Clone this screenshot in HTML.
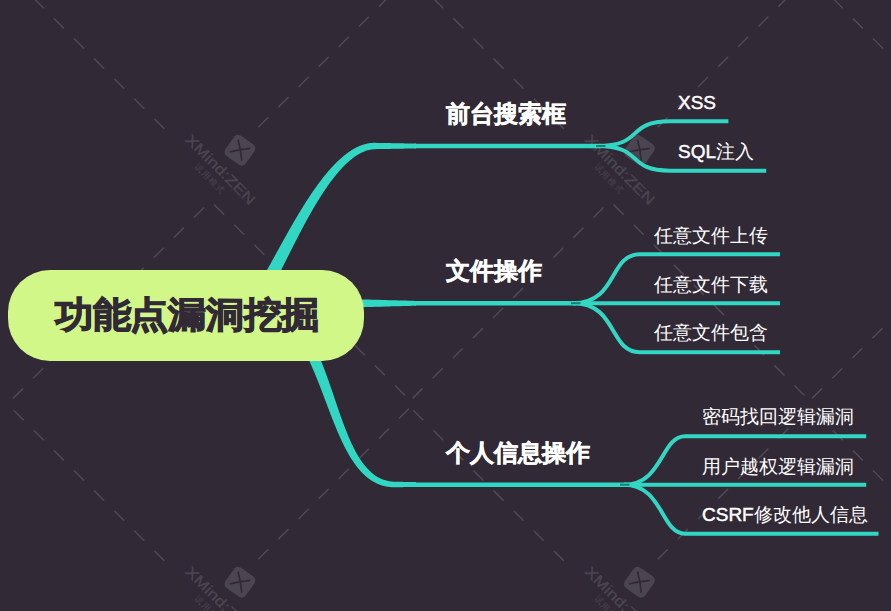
<!DOCTYPE html>
<html><head><meta charset="utf-8"><style>
html,body{margin:0;padding:0;}
body{width:891px;height:611px;background:#312935;position:relative;overflow:hidden;font-family:"Liberation Sans",sans-serif;}
svg{position:absolute;left:0;top:0;}
.t{position:absolute;color:#fff;white-space:nowrap;line-height:1.2;}
.t b{font-weight:400;-webkit-text-stroke:0.45px #fff;}
.h1{font-weight:700;-webkit-text-stroke:0.5px #fff;}
.pill{position:absolute;left:8px;top:270px;width:356px;height:91px;border-radius:42px;background:#d2f789;}
.ct{position:absolute;left:55px;top:292.5px;letter-spacing:-0.3px;transform:scaleY(0.94);transform-origin:50% 58%;font-size:38px;font-weight:700;color:#312935;-webkit-text-stroke:1.3px #312935;white-space:nowrap;line-height:1.2;}
</style></head><body>
<svg width="891" height="611" viewBox="0 0 891 611">
<g stroke="#4e4955" stroke-width="1.5" font-family="Liberation Sans, sans-serif">
<line x1="164.4" y1="128.9" x2="154.4" y2="118.9"/>
<line x1="144.3" y1="108.8" x2="134.3" y2="98.8"/>
<line x1="124.2" y1="88.7" x2="114.2" y2="78.7"/>
<line x1="104.1" y1="68.6" x2="94.1" y2="58.6"/>
<line x1="84.0" y1="48.5" x2="74.0" y2="38.5"/>
<line x1="63.9" y1="28.4" x2="53.9" y2="18.4"/>
<line x1="43.8" y1="8.3" x2="33.8" y2="-1.7"/>
<line x1="258.3" y1="127.2" x2="268.3" y2="117.2"/>
<line x1="278.4" y1="107.1" x2="288.4" y2="97.1"/>
<line x1="298.5" y1="87.0" x2="308.5" y2="77.0"/>
<line x1="318.6" y1="66.9" x2="328.6" y2="56.9"/>
<line x1="338.7" y1="46.8" x2="348.7" y2="36.8"/>
<line x1="358.8" y1="26.7" x2="368.8" y2="16.7"/>
<line x1="378.9" y1="6.6" x2="388.9" y2="-3.4"/>
<line x1="204.0" y1="207.5" x2="194.0" y2="217.5"/>
<line x1="183.9" y1="227.6" x2="173.9" y2="237.6"/>
<line x1="163.8" y1="247.7" x2="153.8" y2="257.7"/>
<line x1="143.7" y1="267.8" x2="133.7" y2="277.8"/>
<line x1="123.6" y1="287.9" x2="113.6" y2="297.9"/>
<line x1="103.5" y1="308.0" x2="93.5" y2="318.0"/>
<line x1="83.4" y1="328.1" x2="73.4" y2="338.1"/>
<line x1="63.3" y1="348.2" x2="53.3" y2="358.2"/>
<line x1="43.2" y1="368.3" x2="33.2" y2="378.3"/>
<line x1="23.1" y1="388.4" x2="13.1" y2="398.4"/>
<line x1="214.1" y1="204.6" x2="224.1" y2="214.6"/>
<line x1="234.2" y1="224.7" x2="244.2" y2="234.7"/>
<line x1="254.3" y1="244.8" x2="264.3" y2="254.8"/>
<line x1="274.4" y1="264.9" x2="284.4" y2="274.9"/>
<line x1="294.5" y1="285.0" x2="304.5" y2="295.0"/>
<line x1="314.6" y1="305.1" x2="324.6" y2="315.1"/>
<line x1="334.7" y1="325.2" x2="344.7" y2="335.2"/>
<line x1="354.8" y1="345.3" x2="364.8" y2="355.3"/>
<line x1="374.9" y1="365.4" x2="384.9" y2="375.4"/>
<line x1="395.0" y1="385.5" x2="405.0" y2="395.5"/>
<g transform="translate(239.9 150.2) rotate(35)"><rect x="-12.5" y="-12.5" width="25" height="25" rx="5" fill="#4a4551" stroke="none"/><path d="M-7.5 -7.5 Q0 -1.5 7.5 7.5 M7.5 -7.5 Q-1.5 0 -7.5 7.5" stroke="#312935" stroke-width="1.7" fill="none"/></g>
<text transform="translate(220.7 169.4) rotate(45)" x="-46" y="5.2" font-size="14.5" textLength="92" lengthAdjust="spacingAndGlyphs" fill="#4a4551" stroke="#4a4551" stroke-width="0.35">XMind:ZEN</text>
<text transform="translate(209.7 178.8) rotate(45)" x="-19" y="3" font-size="8.5" textLength="38" lengthAdjust="spacing" fill="#4a4551" stroke="none">试用模式</text>
<line x1="164.4" y1="560.9" x2="154.4" y2="550.9"/>
<line x1="144.3" y1="540.8" x2="134.3" y2="530.8"/>
<line x1="124.2" y1="520.7" x2="114.2" y2="510.7"/>
<line x1="104.1" y1="500.6" x2="94.1" y2="490.6"/>
<line x1="84.0" y1="480.5" x2="74.0" y2="470.5"/>
<line x1="63.9" y1="460.4" x2="53.9" y2="450.4"/>
<line x1="43.8" y1="440.3" x2="33.8" y2="430.3"/>
<line x1="23.7" y1="420.2" x2="13.7" y2="410.2"/>
<line x1="258.3" y1="559.2" x2="268.3" y2="549.2"/>
<line x1="278.4" y1="539.1" x2="288.4" y2="529.1"/>
<line x1="298.5" y1="519.0" x2="308.5" y2="509.0"/>
<line x1="318.6" y1="498.9" x2="328.6" y2="488.9"/>
<line x1="338.7" y1="478.8" x2="348.7" y2="468.8"/>
<line x1="358.8" y1="458.7" x2="368.8" y2="448.7"/>
<line x1="378.9" y1="438.6" x2="388.9" y2="428.6"/>
<line x1="399.0" y1="418.5" x2="409.0" y2="408.5"/>
<g transform="translate(239.9 582.2) rotate(35)"><rect x="-12.5" y="-12.5" width="25" height="25" rx="5" fill="#4a4551" stroke="none"/><path d="M-7.5 -7.5 Q0 -1.5 7.5 7.5 M7.5 -7.5 Q-1.5 0 -7.5 7.5" stroke="#312935" stroke-width="1.7" fill="none"/></g>
<text transform="translate(220.7 601.4) rotate(45)" x="-46" y="5.2" font-size="14.5" textLength="92" lengthAdjust="spacingAndGlyphs" fill="#4a4551" stroke="#4a4551" stroke-width="0.35">XMind:ZEN</text>
<text transform="translate(209.7 610.8) rotate(45)" x="-19" y="3" font-size="8.5" textLength="38" lengthAdjust="spacing" fill="#4a4551" stroke="none">试用模式</text>
<line x1="563.9" y1="128.9" x2="553.9" y2="118.9"/>
<line x1="543.8" y1="108.8" x2="533.8" y2="98.8"/>
<line x1="523.7" y1="88.7" x2="513.7" y2="78.7"/>
<line x1="503.6" y1="68.6" x2="493.6" y2="58.6"/>
<line x1="483.5" y1="48.5" x2="473.5" y2="38.5"/>
<line x1="463.4" y1="28.4" x2="453.4" y2="18.4"/>
<line x1="443.3" y1="8.3" x2="433.3" y2="-1.7"/>
<line x1="657.8" y1="127.2" x2="667.8" y2="117.2"/>
<line x1="677.9" y1="107.1" x2="687.9" y2="97.1"/>
<line x1="698.0" y1="87.0" x2="708.0" y2="77.0"/>
<line x1="718.1" y1="66.9" x2="728.1" y2="56.9"/>
<line x1="738.2" y1="46.8" x2="748.2" y2="36.8"/>
<line x1="758.3" y1="26.7" x2="768.3" y2="16.7"/>
<line x1="778.4" y1="6.6" x2="788.4" y2="-3.4"/>
<line x1="603.5" y1="207.5" x2="593.5" y2="217.5"/>
<line x1="583.4" y1="227.6" x2="573.4" y2="237.6"/>
<line x1="563.3" y1="247.7" x2="553.3" y2="257.7"/>
<line x1="543.2" y1="267.8" x2="533.2" y2="277.8"/>
<line x1="523.1" y1="287.9" x2="513.1" y2="297.9"/>
<line x1="503.0" y1="308.0" x2="493.0" y2="318.0"/>
<line x1="482.9" y1="328.1" x2="472.9" y2="338.1"/>
<line x1="462.8" y1="348.2" x2="452.8" y2="358.2"/>
<line x1="442.7" y1="368.3" x2="432.7" y2="378.3"/>
<line x1="422.6" y1="388.4" x2="412.6" y2="398.4"/>
<line x1="613.6" y1="204.6" x2="623.6" y2="214.6"/>
<line x1="633.7" y1="224.7" x2="643.7" y2="234.7"/>
<line x1="653.8" y1="244.8" x2="663.8" y2="254.8"/>
<line x1="673.9" y1="264.9" x2="683.9" y2="274.9"/>
<line x1="694.0" y1="285.0" x2="704.0" y2="295.0"/>
<line x1="714.1" y1="305.1" x2="724.1" y2="315.1"/>
<line x1="734.2" y1="325.2" x2="744.2" y2="335.2"/>
<line x1="754.3" y1="345.3" x2="764.3" y2="355.3"/>
<line x1="774.4" y1="365.4" x2="784.4" y2="375.4"/>
<line x1="794.5" y1="385.5" x2="804.5" y2="395.5"/>
<g transform="translate(639.4 150.2) rotate(35)"><rect x="-12.5" y="-12.5" width="25" height="25" rx="5" fill="#4a4551" stroke="none"/><path d="M-7.5 -7.5 Q0 -1.5 7.5 7.5 M7.5 -7.5 Q-1.5 0 -7.5 7.5" stroke="#312935" stroke-width="1.7" fill="none"/></g>
<text transform="translate(620.2 169.4) rotate(45)" x="-46" y="5.2" font-size="14.5" textLength="92" lengthAdjust="spacingAndGlyphs" fill="#4a4551" stroke="#4a4551" stroke-width="0.35">XMind:ZEN</text>
<text transform="translate(609.2 178.8) rotate(45)" x="-19" y="3" font-size="8.5" textLength="38" lengthAdjust="spacing" fill="#4a4551" stroke="none">试用模式</text>
<line x1="563.9" y1="560.9" x2="553.9" y2="550.9"/>
<line x1="543.8" y1="540.8" x2="533.8" y2="530.8"/>
<line x1="523.7" y1="520.7" x2="513.7" y2="510.7"/>
<line x1="503.6" y1="500.6" x2="493.6" y2="490.6"/>
<line x1="483.5" y1="480.5" x2="473.5" y2="470.5"/>
<line x1="463.4" y1="460.4" x2="453.4" y2="450.4"/>
<line x1="443.3" y1="440.3" x2="433.3" y2="430.3"/>
<line x1="423.2" y1="420.2" x2="413.2" y2="410.2"/>
<line x1="657.8" y1="559.2" x2="667.8" y2="549.2"/>
<line x1="677.9" y1="539.1" x2="687.9" y2="529.1"/>
<line x1="698.0" y1="519.0" x2="708.0" y2="509.0"/>
<line x1="718.1" y1="498.9" x2="728.1" y2="488.9"/>
<line x1="738.2" y1="478.8" x2="748.2" y2="468.8"/>
<line x1="758.3" y1="458.7" x2="768.3" y2="448.7"/>
<line x1="778.4" y1="438.6" x2="788.4" y2="428.6"/>
<line x1="798.5" y1="418.5" x2="808.5" y2="408.5"/>
<g transform="translate(639.4 582.2) rotate(35)"><rect x="-12.5" y="-12.5" width="25" height="25" rx="5" fill="#4a4551" stroke="none"/><path d="M-7.5 -7.5 Q0 -1.5 7.5 7.5 M7.5 -7.5 Q-1.5 0 -7.5 7.5" stroke="#312935" stroke-width="1.7" fill="none"/></g>
<text transform="translate(620.2 601.4) rotate(45)" x="-46" y="5.2" font-size="14.5" textLength="92" lengthAdjust="spacingAndGlyphs" fill="#4a4551" stroke="#4a4551" stroke-width="0.35">XMind:ZEN</text>
<text transform="translate(609.2 610.8) rotate(45)" x="-19" y="3" font-size="8.5" textLength="38" lengthAdjust="spacing" fill="#4a4551" stroke="none">试用模式</text>
<line x1="903.1" y1="68.6" x2="893.1" y2="58.6"/>
<line x1="883.0" y1="48.5" x2="873.0" y2="38.5"/>
<line x1="862.9" y1="28.4" x2="852.9" y2="18.4"/>
<line x1="842.8" y1="8.3" x2="832.8" y2="-1.7"/>
<line x1="902.5" y1="308.0" x2="892.5" y2="318.0"/>
<line x1="882.4" y1="328.1" x2="872.4" y2="338.1"/>
<line x1="862.3" y1="348.2" x2="852.3" y2="358.2"/>
<line x1="842.2" y1="368.3" x2="832.2" y2="378.3"/>
<line x1="822.1" y1="388.4" x2="812.1" y2="398.4"/>
<line x1="903.1" y1="500.6" x2="893.1" y2="490.6"/>
<line x1="883.0" y1="480.5" x2="873.0" y2="470.5"/>
<line x1="862.9" y1="460.4" x2="852.9" y2="450.4"/>
<line x1="842.8" y1="440.3" x2="832.8" y2="430.3"/>
<line x1="822.7" y1="420.2" x2="812.7" y2="410.2"/>
</g>
<path d="M250.29 309.99 L250.86 309.96 L251.69 309.85 L252.48 309.69 L253.23 309.48 L253.94 309.23 L254.61 308.94 L255.25 308.63 L255.86 308.30 L256.43 307.94 L256.99 307.57 L257.52 307.18 L258.03 306.78 L258.53 306.36 L259.01 305.93 L259.48 305.49 L259.94 305.03 L260.40 304.56 L260.85 304.08 L261.29 303.58 L261.73 303.07 L262.17 302.54 L262.61 302.00 L263.04 301.45 L263.47 300.88 L263.90 300.30 L264.34 299.70 L264.77 299.09 L265.20 298.47 L265.64 297.83 L266.07 297.18 L266.51 296.51 L266.95 295.83 L267.39 295.14 L267.83 294.43 L268.27 293.71 L268.72 292.98 L269.17 292.23 L269.62 291.47 L270.07 290.70 L270.53 289.91 L270.99 289.11 L271.45 288.30 L271.91 287.47 L272.38 286.63 L272.85 285.78 L273.33 284.92 L273.80 284.05 L274.28 283.16 L274.76 282.27 L275.25 281.36 L275.74 280.44 L276.23 279.51 L276.72 278.57 L277.22 277.62 L277.72 276.66 L278.22 275.69 L278.73 274.71 L279.24 273.72 L279.75 272.72 L280.27 271.71 L280.79 270.69 L281.31 269.67 L281.83 268.63 L282.36 267.59 L282.89 266.54 L283.43 265.48 L283.96 264.41 L284.50 263.34 L285.05 262.26 L285.59 261.17 L286.14 260.08 L286.70 258.98 L287.25 257.87 L287.81 256.76 L288.37 255.64 L288.94 254.51 L289.50 253.38 L290.08 252.25 L290.65 251.11 L291.23 249.96 L291.80 248.82 L292.39 247.66 L292.97 246.51 L293.56 245.35 L294.15 244.18 L294.75 243.02 L295.34 241.85 L295.94 240.67 L296.55 239.50 L297.15 238.32 L297.76 237.14 L298.37 235.96 L298.98 234.78 L299.60 233.59 L300.22 232.41 L300.84 231.22 L301.47 230.03 L302.09 228.85 L302.72 227.66 L303.36 226.47 L303.99 225.29 L304.63 224.10 L305.27 222.91 L305.92 221.73 L306.56 220.55 L307.21 219.36 L307.86 218.18 L308.52 217.01 L309.17 215.83 L309.83 214.66 L310.49 213.49 L311.16 212.32 L311.82 211.16 L312.49 210.00 L313.16 208.84 L313.83 207.69 L314.51 206.54 L315.19 205.39 L315.87 204.25 L316.55 203.12 L317.24 201.99 L317.92 200.86 L318.61 199.75 L319.31 198.63 L320.00 197.53 L320.70 196.43 L321.39 195.33 L322.09 194.24 L322.80 193.16 L323.50 192.09 L324.21 191.03 L324.92 189.97 L325.63 188.92 L326.34 187.88 L327.06 186.85 L327.77 185.82 L328.49 184.81 L329.21 183.80 L329.93 182.81 L330.66 181.82 L331.38 180.85 L332.11 179.88 L332.84 178.93 L333.57 177.98 L334.30 177.05 L335.04 176.13 L335.77 175.22 L336.51 174.32 L337.25 173.43 L337.99 172.56 L338.73 171.69 L339.47 170.84 L340.22 170.01 L340.96 169.18 L341.71 168.37 L342.46 167.58 L343.21 166.79 L343.96 166.02 L344.71 165.27 L345.46 164.53 L346.21 163.80 L346.97 163.09 L347.72 162.40 L348.48 161.72 L349.23 161.06 L349.99 160.41 L350.75 159.78 L351.51 159.16 L352.27 158.56 L353.02 157.98 L353.78 157.42 L354.54 156.87 L355.30 156.34 L356.06 155.83 L356.82 155.33 L357.58 154.85 L358.34 154.40 L359.10 153.95 L359.86 153.53 L360.62 153.13 L361.38 152.74 L362.14 152.38 L362.89 152.03 L363.65 151.70 L364.41 151.39 L365.17 151.10 L365.92 150.83 L366.68 150.58 L367.43 150.35 L368.19 150.14 L368.95 149.95 L369.70 149.78 L370.46 149.63 L371.21 149.50 L371.97 149.39 L372.73 149.30 L373.48 149.23 L374.24 149.19 L375.01 149.16 L377.16 149.12 L379.32 149.08 L381.47 149.04 L383.63 149.00 L385.79 148.96 L387.95 148.92 L390.11 148.88 L392.26 148.84 L394.42 148.80 L396.58 148.76 L398.74 148.72 L400.89 148.68 L403.05 148.64 L405.21 148.60 L407.37 148.56 L409.53 148.52 L411.68 148.48 L413.84 148.44 L416.00 148.40 L416.00 143.60 L413.84 143.56 L411.68 143.52 L409.53 143.48 L407.37 143.44 L405.21 143.40 L403.05 143.36 L400.89 143.32 L398.74 143.28 L396.58 143.24 L394.42 143.20 L392.26 143.16 L390.11 143.12 L387.95 143.08 L385.79 143.04 L383.63 143.00 L381.47 142.96 L379.32 142.92 L377.16 142.88 L374.99 142.84 L374.06 142.84 L373.13 142.86 L372.19 142.91 L371.26 142.98 L370.33 143.08 L369.40 143.21 L368.47 143.36 L367.55 143.53 L366.63 143.73 L365.71 143.95 L364.79 144.19 L363.87 144.45 L362.96 144.74 L362.05 145.05 L361.14 145.38 L360.24 145.73 L359.34 146.11 L358.44 146.50 L357.54 146.91 L356.65 147.35 L355.76 147.80 L354.87 148.27 L353.99 148.76 L353.11 149.27 L352.23 149.80 L351.35 150.34 L350.48 150.90 L349.61 151.48 L348.74 152.08 L347.88 152.69 L347.02 153.32 L346.16 153.97 L345.30 154.63 L344.45 155.31 L343.59 156.00 L342.75 156.71 L341.90 157.43 L341.05 158.17 L340.21 158.92 L339.37 159.69 L338.54 160.47 L337.70 161.26 L336.87 162.07 L336.04 162.89 L335.21 163.73 L334.39 164.57 L333.57 165.43 L332.75 166.30 L331.93 167.18 L331.11 168.08 L330.30 168.98 L329.49 169.90 L328.68 170.83 L327.87 171.77 L327.07 172.72 L326.27 173.68 L325.47 174.64 L324.67 175.62 L323.88 176.61 L323.09 177.61 L322.30 178.62 L321.51 179.64 L320.73 180.66 L319.94 181.69 L319.16 182.74 L318.39 183.79 L317.61 184.84 L316.84 185.91 L316.07 186.98 L315.30 188.06 L314.54 189.15 L313.77 190.24 L313.01 191.34 L312.25 192.44 L311.50 193.55 L310.75 194.67 L310.00 195.79 L309.25 196.92 L308.50 198.05 L307.76 199.18 L307.02 200.33 L306.28 201.47 L305.55 202.62 L304.82 203.77 L304.09 204.93 L303.36 206.09 L302.64 207.25 L301.92 208.41 L301.20 209.58 L300.49 210.75 L299.77 211.92 L299.06 213.10 L298.36 214.27 L297.65 215.45 L296.95 216.63 L296.25 217.81 L295.56 218.99 L294.87 220.16 L294.18 221.34 L293.49 222.52 L292.81 223.70 L292.13 224.88 L291.45 226.06 L290.78 227.24 L290.11 228.41 L289.44 229.59 L288.77 230.76 L288.11 231.93 L287.45 233.10 L286.80 234.26 L286.15 235.42 L285.50 236.58 L284.85 237.74 L284.21 238.89 L283.57 240.04 L282.94 241.19 L282.31 242.33 L281.68 243.47 L281.05 244.60 L280.43 245.72 L279.82 246.85 L279.20 247.96 L278.59 249.07 L277.98 250.18 L277.38 251.28 L276.78 252.37 L276.18 253.45 L275.59 254.53 L275.00 255.60 L274.42 256.67 L273.84 257.72 L273.26 258.77 L272.69 259.81 L272.12 260.84 L271.55 261.87 L270.99 262.88 L270.43 263.89 L269.88 264.88 L269.33 265.87 L268.78 266.84 L268.24 267.81 L267.70 268.76 L267.17 269.71 L266.64 270.64 L266.12 271.56 L265.60 272.47 L265.08 273.37 L264.57 274.26 L264.06 275.13 L263.56 276.00 L263.06 276.84 L262.57 277.68 L262.08 278.50 L261.60 279.31 L261.12 280.10 L260.64 280.88 L260.18 281.65 L259.71 282.40 L259.25 283.13 L258.80 283.85 L258.35 284.55 L257.91 285.24 L257.47 285.91 L257.04 286.56 L256.62 287.20 L256.20 287.82 L255.78 288.42 L255.38 289.00 L254.98 289.56 L254.59 290.11 L254.20 290.63 L253.82 291.13 L253.45 291.62 L253.09 292.08 L252.73 292.52 L252.39 292.94 L252.05 293.33 L251.73 293.71 L251.42 294.06 L251.11 294.38 L250.82 294.68 L250.55 294.96 L250.29 295.21 L250.04 295.43 L249.82 295.62 L249.61 295.79 L249.42 295.93 L249.27 296.04 L249.13 296.13 L249.03 296.19 L248.96 296.22 L248.93 296.23 L248.95 296.22 L249.00 296.19 L249.11 296.15 L249.26 296.10 L249.46 296.05 L249.71 296.02 L249.71 296.01Z" fill="#31d7c3"/>
<path d="M249.93 310.00 L251.16 309.99 L252.30 310.00 L253.42 310.04 L254.53 310.10 L255.63 310.19 L256.71 310.30 L257.77 310.43 L258.82 310.58 L259.86 310.75 L260.89 310.95 L261.90 311.17 L262.90 311.41 L263.89 311.67 L264.86 311.95 L265.83 312.25 L266.78 312.58 L267.73 312.92 L268.66 313.28 L269.59 313.67 L270.50 314.07 L271.41 314.50 L272.30 314.94 L273.19 315.41 L274.07 315.89 L274.94 316.39 L275.81 316.92 L276.66 317.46 L277.51 318.02 L278.35 318.61 L279.19 319.21 L280.01 319.83 L280.83 320.47 L281.64 321.12 L282.45 321.80 L283.25 322.50 L284.04 323.21 L284.82 323.94 L285.60 324.70 L286.37 325.46 L287.14 326.25 L287.90 327.06 L288.65 327.88 L289.40 328.72 L290.14 329.57 L290.87 330.45 L291.60 331.33 L292.32 332.24 L293.04 333.16 L293.74 334.10 L294.45 335.05 L295.14 336.02 L295.83 337.00 L296.52 338.00 L297.20 339.01 L297.87 340.04 L298.54 341.08 L299.20 342.13 L299.86 343.20 L300.51 344.28 L301.15 345.37 L301.79 346.48 L302.43 347.59 L303.06 348.72 L303.68 349.86 L304.30 351.01 L304.92 352.18 L305.53 353.35 L306.13 354.53 L306.73 355.72 L307.33 356.93 L307.92 358.14 L308.51 359.36 L309.09 360.59 L309.67 361.83 L310.25 363.08 L310.82 364.33 L311.39 365.59 L311.95 366.86 L312.51 368.14 L313.07 369.43 L313.62 370.72 L314.17 372.01 L314.72 373.31 L315.26 374.62 L315.80 375.93 L316.34 377.25 L316.88 378.57 L317.41 379.90 L317.94 381.23 L318.47 382.57 L319.00 383.90 L319.52 385.25 L320.05 386.59 L320.57 387.94 L321.09 389.29 L321.61 390.64 L322.12 391.99 L322.64 393.34 L323.15 394.70 L323.67 396.06 L324.18 397.41 L324.69 398.77 L325.21 400.13 L325.72 401.48 L326.23 402.84 L326.74 404.20 L327.25 405.55 L327.76 406.91 L328.28 408.26 L328.79 409.61 L329.30 410.95 L329.82 412.30 L330.33 413.64 L330.85 414.98 L331.36 416.32 L331.88 417.65 L332.40 418.98 L332.92 420.30 L333.45 421.62 L333.97 422.93 L334.50 424.24 L335.03 425.55 L335.56 426.85 L336.09 428.14 L336.63 429.43 L337.17 430.71 L337.71 431.98 L338.26 433.25 L338.80 434.51 L339.36 435.76 L339.91 437.00 L340.47 438.24 L341.03 439.47 L341.60 440.69 L342.17 441.90 L342.75 443.10 L343.33 444.29 L343.91 445.47 L344.50 446.64 L345.10 447.81 L345.69 448.96 L346.30 450.10 L346.91 451.23 L347.53 452.35 L348.15 453.45 L348.78 454.55 L349.41 455.63 L350.05 456.70 L350.70 457.76 L351.35 458.80 L352.01 459.83 L352.68 460.85 L353.35 461.85 L354.03 462.84 L354.72 463.82 L355.42 464.78 L356.12 465.72 L356.84 466.65 L357.56 467.57 L358.29 468.47 L359.03 469.35 L359.78 470.21 L360.53 471.06 L361.30 471.89 L362.08 472.71 L362.86 473.50 L363.66 474.28 L364.46 475.04 L365.28 475.78 L366.10 476.50 L366.94 477.21 L367.79 477.89 L368.65 478.55 L369.52 479.19 L370.40 479.81 L371.29 480.40 L372.19 480.98 L373.11 481.53 L374.03 482.06 L374.97 482.57 L375.92 483.05 L376.88 483.51 L377.86 483.94 L378.84 484.35 L379.84 484.73 L380.85 485.09 L381.87 485.42 L382.90 485.73 L383.94 486.01 L385.00 486.26 L386.06 486.48 L387.14 486.68 L388.23 486.85 L389.33 486.99 L390.44 487.10 L391.56 487.18 L392.70 487.24 L393.84 487.26 L394.98 487.26 L396.11 487.24 L397.21 487.22 L398.32 487.20 L399.42 487.18 L400.53 487.16 L401.63 487.15 L402.74 487.13 L403.84 487.11 L404.95 487.09 L406.05 487.07 L407.16 487.05 L408.26 487.03 L409.37 487.01 L410.47 486.99 L411.58 486.98 L412.68 486.96 L413.79 486.94 L414.89 486.92 L416.00 486.90 L416.00 482.10 L414.89 482.08 L413.79 482.06 L412.68 482.04 L411.58 482.02 L410.47 482.01 L409.37 481.99 L408.26 481.97 L407.16 481.95 L406.05 481.93 L404.95 481.91 L403.84 481.89 L402.74 481.87 L401.63 481.85 L400.53 481.84 L399.42 481.82 L398.32 481.80 L397.21 481.78 L396.11 481.76 L395.02 481.74 L393.98 481.71 L392.98 481.65 L392.00 481.57 L391.02 481.47 L390.06 481.34 L389.12 481.18 L388.19 481.01 L387.27 480.80 L386.36 480.58 L385.47 480.34 L384.59 480.07 L383.72 479.78 L382.86 479.46 L382.01 479.13 L381.17 478.77 L380.35 478.40 L379.53 478.00 L378.72 477.58 L377.93 477.14 L377.14 476.68 L376.36 476.20 L375.59 475.69 L374.82 475.17 L374.07 474.63 L373.33 474.07 L372.59 473.48 L371.86 472.88 L371.14 472.26 L370.42 471.62 L369.72 470.96 L369.02 470.28 L368.32 469.58 L367.64 468.86 L366.96 468.12 L366.29 467.37 L365.62 466.60 L364.97 465.81 L364.32 465.00 L363.67 464.17 L363.03 463.33 L362.40 462.47 L361.77 461.59 L361.16 460.70 L360.54 459.79 L359.93 458.87 L359.33 457.93 L358.74 456.97 L358.15 456.00 L357.56 455.01 L356.98 454.01 L356.41 453.00 L355.84 451.97 L355.28 450.92 L354.72 449.87 L354.16 448.80 L353.61 447.71 L353.07 446.62 L352.53 445.51 L351.99 444.39 L351.46 443.26 L350.94 442.11 L350.41 440.96 L349.89 439.79 L349.38 438.62 L348.87 437.43 L348.36 436.23 L347.86 435.02 L347.35 433.81 L346.86 432.58 L346.36 431.35 L345.87 430.10 L345.38 428.85 L344.89 427.59 L344.41 426.32 L343.93 425.04 L343.45 423.76 L342.97 422.47 L342.49 421.17 L342.02 419.86 L341.55 418.55 L341.08 417.24 L340.61 415.91 L340.14 414.59 L339.67 413.25 L339.21 411.91 L338.74 410.57 L338.28 409.22 L337.81 407.87 L337.35 406.52 L336.89 405.16 L336.42 403.80 L335.96 402.43 L335.50 401.06 L335.03 399.69 L334.57 398.32 L334.10 396.94 L333.63 395.57 L333.17 394.19 L332.70 392.81 L332.23 391.43 L331.76 390.05 L331.29 388.67 L330.81 387.29 L330.34 385.91 L329.86 384.53 L329.38 383.15 L328.89 381.77 L328.41 380.40 L327.92 379.02 L327.43 377.65 L326.93 376.27 L326.44 374.90 L325.94 373.54 L325.43 372.17 L324.93 370.81 L324.41 369.45 L323.90 368.10 L323.38 366.75 L322.86 365.40 L322.33 364.06 L321.79 362.72 L321.26 361.39 L320.71 360.06 L320.17 358.74 L319.61 357.42 L319.05 356.11 L318.49 354.81 L317.92 353.51 L317.34 352.22 L316.76 350.94 L316.17 349.66 L315.57 348.39 L314.97 347.13 L314.36 345.87 L313.75 344.63 L313.12 343.39 L312.49 342.16 L311.85 340.94 L311.20 339.73 L310.55 338.53 L309.88 337.33 L309.21 336.15 L308.53 334.98 L307.84 333.82 L307.14 332.67 L306.43 331.53 L305.71 330.40 L304.98 329.29 L304.24 328.18 L303.49 327.09 L302.73 326.01 L301.96 324.94 L301.18 323.89 L300.39 322.85 L299.58 321.82 L298.76 320.80 L297.94 319.81 L297.09 318.82 L296.24 317.85 L295.37 316.90 L294.49 315.96 L293.60 315.04 L292.69 314.13 L291.77 313.24 L290.84 312.37 L289.89 311.51 L288.93 310.67 L287.95 309.86 L286.96 309.06 L285.95 308.28 L284.93 307.51 L283.89 306.77 L282.84 306.05 L281.77 305.35 L280.69 304.68 L279.59 304.02 L278.47 303.39 L277.34 302.78 L276.19 302.19 L275.03 301.63 L273.85 301.09 L272.66 300.57 L271.45 300.09 L270.22 299.62 L268.98 299.19 L267.72 298.78 L266.45 298.39 L265.16 298.04 L263.86 297.71 L262.54 297.41 L261.20 297.13 L259.85 296.89 L258.49 296.67 L257.11 296.49 L255.72 296.33 L254.31 296.20 L252.89 296.11 L251.45 296.04 L250.07 296.00Z" fill="#31d7c3"/>
<path d="M250.00 310.30 L253.39 310.21 L256.78 310.11 L260.16 310.02 L263.55 309.92 L266.94 309.83 L270.33 309.74 L273.71 309.64 L277.10 309.55 L280.49 309.46 L283.88 309.36 L287.27 309.27 L290.65 309.17 L294.04 309.08 L297.43 308.99 L300.82 308.89 L304.20 308.80 L307.59 308.70 L310.98 308.61 L314.37 308.52 L317.76 308.42 L321.14 308.33 L324.53 308.23 L327.92 308.14 L331.31 308.05 L334.69 307.95 L338.08 307.86 L341.47 307.77 L344.86 307.67 L348.24 307.58 L351.63 307.48 L355.02 307.39 L358.41 307.30 L361.80 307.20 L365.18 307.11 L368.57 307.01 L371.96 306.92 L375.35 306.83 L378.73 306.73 L382.12 306.64 L385.51 306.54 L388.90 306.45 L392.29 306.36 L395.67 306.26 L399.06 306.17 L402.45 306.08 L405.84 305.98 L409.22 305.89 L412.61 305.79 L416.00 305.70 L416.00 300.90 L412.61 300.81 L409.22 300.71 L405.84 300.62 L402.45 300.52 L399.06 300.43 L395.67 300.34 L392.29 300.24 L388.90 300.15 L385.51 300.06 L382.12 299.96 L378.73 299.87 L375.35 299.77 L371.96 299.68 L368.57 299.59 L365.18 299.49 L361.80 299.40 L358.41 299.30 L355.02 299.21 L351.63 299.12 L348.24 299.02 L344.86 298.93 L341.47 298.83 L338.08 298.74 L334.69 298.65 L331.31 298.55 L327.92 298.46 L324.53 298.37 L321.14 298.27 L317.76 298.18 L314.37 298.08 L310.98 297.99 L307.59 297.90 L304.20 297.80 L300.82 297.71 L297.43 297.61 L294.04 297.52 L290.65 297.43 L287.27 297.33 L283.88 297.24 L280.49 297.14 L277.10 297.05 L273.71 296.96 L270.33 296.86 L266.94 296.77 L263.55 296.68 L260.16 296.58 L256.78 296.49 L253.39 296.39 L250.00 296.30Z" fill="#31d7c3"/>
<line x1="415" y1="146.0" x2="600.0" y2="146.0" stroke="#31d7c3" stroke-width="4.5"/>
<line x1="415" y1="303.2" x2="576.0" y2="303.2" stroke="#31d7c3" stroke-width="4.5"/>
<line x1="415" y1="484.7" x2="627.0" y2="484.7" stroke="#31d7c3" stroke-width="4.5"/>
<path d="M597.0 146.0 C645.0 146.0 625.0 121.3 670.0 121.3 L728.4 121.3" fill="none" stroke="#31d7c3" stroke-width="4.0"/>
<path d="M597.0 146.0 C645.0 146.0 625.0 170.7 670.0 170.7 L766.2 170.7" fill="none" stroke="#31d7c3" stroke-width="4.0"/>
<path d="M573.0 303.2 C618.0 303.2 608.5 254.2 640.0 254.2 L780.0 254.2" fill="none" stroke="#31d7c3" stroke-width="4.0"/>
<path d="M573.0 303.2 C618.0 303.2 608.5 352.2 640.0 352.2 L780.0 352.2" fill="none" stroke="#31d7c3" stroke-width="4.0"/>
<path d="M624.0 484.7 C663.0 484.7 661.0 436.2 685.0 436.2 L866.2 436.2" fill="none" stroke="#31d7c3" stroke-width="4.0"/>
<path d="M624.0 484.7 C663.0 484.7 661.0 533.8 685.0 533.8 L878.5 533.8" fill="none" stroke="#31d7c3" stroke-width="4.0"/>
<line x1="573.0" y1="303.2" x2="780.0" y2="303.2" stroke="#31d7c3" stroke-width="4.0"/>
<line x1="624.0" y1="484.7" x2="866.2" y2="484.7" stroke="#31d7c3" stroke-width="4.0"/>
<rect x="596.0" y="145.0" width="9.5" height="2" fill="#14806f"/>
<rect x="571.0" y="302.2" width="9.5" height="2" fill="#14806f"/>
<rect x="620.0" y="483.7" width="9.5" height="2" fill="#14806f"/>
</svg>
<div class="pill"></div>
<div class="ct">功能点漏洞挖掘</div>
<div class="t h1" style="left:446.0px;top:100.0px;font-size:24px">前台搜索框</div>
<div class="t h1" style="left:445.5px;top:257.0px;font-size:24px">文件操作</div>
<div class="t h1" style="left:446.0px;top:439.0px;font-size:24px">个人信息操作</div>
<div class="t" style="left:678.0px;top:92.0px;font-size:19px"><b>XSS</b></div>
<div class="t" style="left:678.0px;top:140.8px;font-size:19px"><b>SQL</b>注入</div>
<div class="t" style="left:654.0px;top:224.5px;font-size:19px">任意文件上传</div>
<div class="t" style="left:654.0px;top:273.5px;font-size:19px">任意文件下载</div>
<div class="t" style="left:654.0px;top:321.5px;font-size:19px">任意文件包含</div>
<div class="t" style="left:702.0px;top:406.0px;font-size:19px">密码找回逻辑漏洞</div>
<div class="t" style="left:702.0px;top:456.0px;font-size:19px">用户越权逻辑漏洞</div>
<div class="t" style="left:702.0px;top:504.0px;font-size:19px"><b>CSRF</b>修改他人信息</div>
</body></html>
